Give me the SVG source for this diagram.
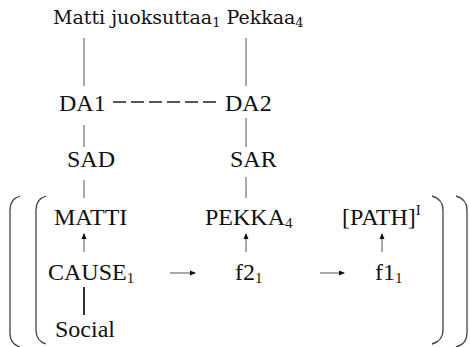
<svg xmlns="http://www.w3.org/2000/svg" width="470" height="347" viewBox="0 0 470 347">
<style>
text{font-family:"Liberation Serif","Times New Roman",serif;font-size:24px;fill:#111}
.title{font-family:"DejaVu Serif","Liberation Serif",serif;font-size:19px}
.sub{font-size:15px}
.tsub{font-size:13px}
.ln{stroke:#555;stroke-width:1;fill:none}
.br{stroke:#444;stroke-width:1.3;fill:none}
</style>
<defs>
<marker id="ah" markerWidth="6" markerHeight="6" refX="5" refY="3" orient="auto" markerUnits="userSpaceOnUse"><path d="M0,0.5 L6,3 L0,5.5 Z" fill="#111"/></marker>
</defs>
<rect width="470" height="347" fill="#fff"/>
<g id="title"><text class="title" x="53" y="24">Matti juoksuttaa<tspan class="tsub" dy="3">1</tspan><tspan dy="-3"> Pekkaa</tspan><tspan class="tsub" dy="3">4</tspan></text></g>
<g id="DA1"><text x="59" y="111">DA1</text></g>
<g id="DA2"><text x="225" y="111">DA2</text></g>
<g id="SAD"><text x="67" y="167">SAD</text></g>
<g id="SAR"><text x="230" y="167">SAR</text></g>
<g id="MATTI"><text x="54" y="225">MATTI</text></g>
<g id="PEKKA"><text x="205" y="225">PEKKA<tspan class="sub" dy="3">4</tspan></text></g>
<g id="PATH"><text x="342" y="225">[PATH]<tspan class="sub" dy="-10">I</tspan></text></g>
<g id="CAUSE"><text x="48" y="280">CAUSE<tspan class="sub" dy="3">1</tspan></text></g>
<g id="f2"><text x="235" y="280">f2<tspan class="sub" dy="3">1</tspan></text></g>
<g id="f1"><text x="375" y="280">f1<tspan class="sub" dy="3">1</tspan></text></g>
<g id="Social"><text x="55" y="337">Social</text></g>
<g id="brackets">
<path class="br" d="M20,196 Q10,199 10,210 L10,333 Q10,344 20,347"/>
<path class="br" d="M46,196 Q36,199 36,210 L36,330 Q36,341 46,344"/>
<path class="br" d="M432,196 Q443,199 443,210 L443,330 Q443,341 432,344"/>
<path class="br" d="M456,196 Q467,199 467,210 L467,333 Q467,344 456,347"/>
</g>
<g id="connectors">
<line class="ln" x1="84" y1="38" x2="84" y2="86"/>
<line class="ln" x1="246" y1="38" x2="246" y2="86"/>
<line stroke="#222" stroke-width="1.4" x1="113" y1="102" x2="221" y2="102" stroke-dasharray="13,5"/>
<line class="ln" x1="84" y1="125" x2="84" y2="147"/>
<line class="ln" x1="246" y1="118" x2="246" y2="147"/>
<line class="ln" x1="84" y1="180" x2="84" y2="198"/>
<line class="ln" x1="246" y1="177" x2="246" y2="198"/>
<line class="ln" x1="84" y1="252" x2="84" y2="234" marker-end="url(#ah)"/>
<line class="ln" x1="246" y1="252" x2="246" y2="234" marker-end="url(#ah)"/>
<line class="ln" x1="382" y1="252" x2="382" y2="234" marker-end="url(#ah)"/>
<line class="ln" x1="170" y1="273" x2="195" y2="273" marker-end="url(#ah)"/>
<line class="ln" x1="320" y1="273" x2="344" y2="273" marker-end="url(#ah)"/>
<line stroke="#333" stroke-width="2" x1="84" y1="287" x2="84" y2="315"/>
</g>
</svg>
